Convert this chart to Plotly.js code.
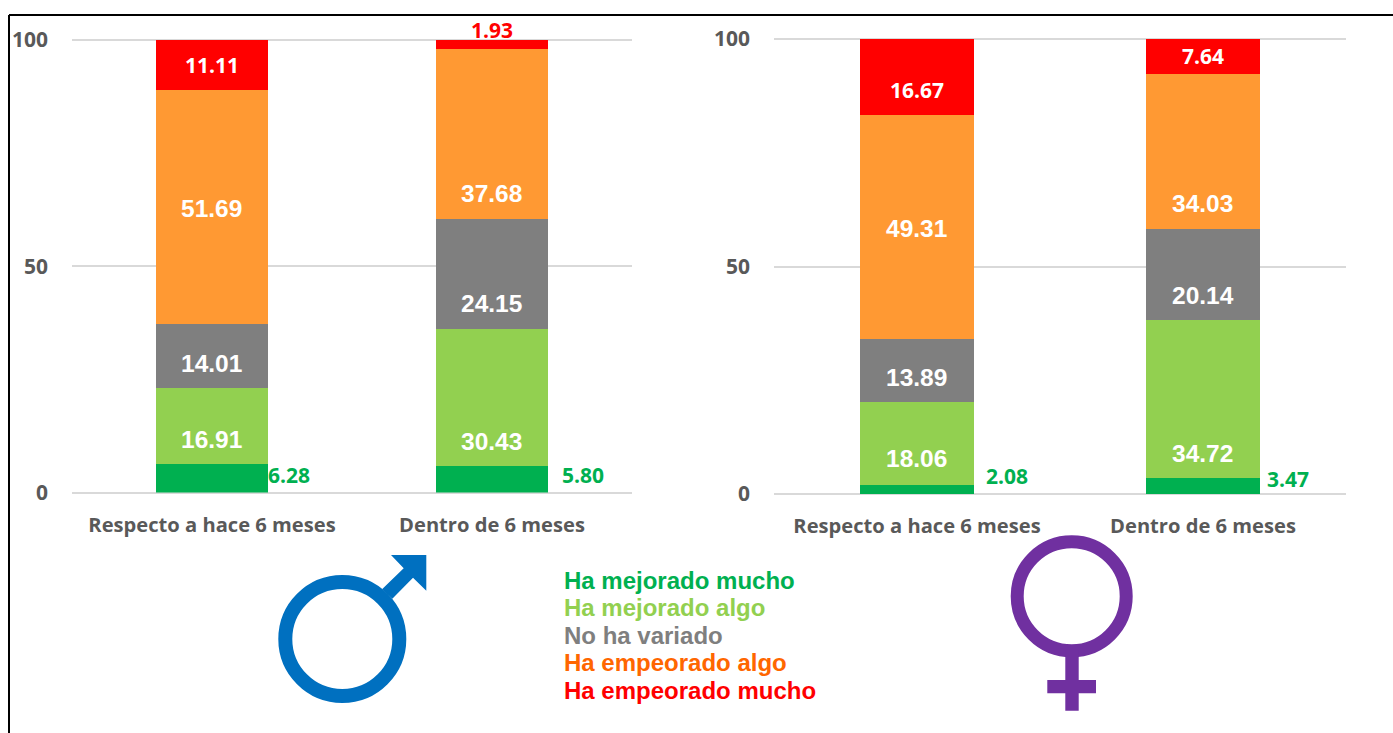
<!DOCTYPE html>
<html>
<head>
<meta charset="utf-8">
<script src="https://cdn.plot.ly/plotly-3.0.1.min.js"></script>
<style>html,body{margin:0;padding:0;background:#fff}#chart{width:1393px;height:733px}</style>
</head>
<body>
<div id="chart"></div>
<script>
var categories = ['Respecto a hace 6 meses', 'Dentro de 6 meses'];
var seriesNames = ['Ha mejorado mucho', 'Ha mejorado algo', 'No ha variado', 'Ha empeorado algo', 'Ha empeorado mucho'];
var barColors = ['#00B050', '#92D050', '#7F7F7F', '#FF9933', '#FF0000'];
var legendColors = ['#00B050', '#92D050', '#7F7F7F', '#FF6600', '#FF0000'];
var tickValues = [0, 50, 100];

var menMejoradoMucho = [6.28, 5.80];
var menMejoradoAlgo = [16.91, 30.43];
var menNoVariado = [14.01, 24.15];
var menEmpeoradoAlgo = [51.69, 37.68];
var menEmpeoradoMucho = [11.11, 1.93];

var womenMejoradoMucho = [2.08, 3.47];
var womenMejoradoAlgo = [18.06, 34.72];
var womenNoVariado = [13.89, 20.14];
var womenEmpeoradoAlgo = [49.31, 34.03];
var womenEmpeoradoMucho = [16.67, 7.64];

var W = 1393, H = 733;
var px = function (x) { return x / W; };
var py = function (y) { return 1 - y / H; };
var SANS = '"Liberation Sans", Arial, sans-serif';
var OPEN = '"Open Sans", sans-serif';

var menValues = [menMejoradoMucho, menMejoradoAlgo, menNoVariado, menEmpeoradoAlgo, menEmpeoradoMucho];
var womenValues = [womenMejoradoMucho, womenMejoradoAlgo, womenNoVariado, womenEmpeoradoAlgo, womenEmpeoradoMucho];

// Vertical offset (px, up is positive) of each label from the middle of its segment, per series and category.
var menNudge = [[3, 4], [-14, -44], [-8, -30], [-1, -59], [0, 0]];
var womenNudge = [[13.7, 7], [-15, -54], [-7, -21], [-2, -52], [-13, 0]];

function stack(values, names, xa, ya) {
  return values.map(function (v, i) {
    return {
      type: 'bar', x: categories, y: v, name: names[i], xaxis: xa, yaxis: ya,
      width: 0.4,
      marker: { color: barColors[i], line: { width: 0 } },
      hoverinfo: 'name+y'
    };
  });
}

var data = stack(menValues, seriesNames, 'x', 'y').concat(stack(womenValues, seriesNames, 'x2', 'y2'));

function label(xa, ya, idx, mid, val, opts) {
  return {
    xref: xa, yref: ya, x: idx + (opts.bar || 0), y: mid, text: '<b>' + val.toFixed(2) + '</b>',
    showarrow: false, xanchor: opts.anchor || 'center', yanchor: 'middle',
    xshift: opts.dx || 0, yshift: opts.dy || 0,
    font: { family: opts.family, size: opts.size, color: opts.color }
  };
}

var annotations = [];
function addLabels(values, nudge, xa, ya, outside) {
  categories.forEach(function (c, k) {
    var base = 0;
    values.forEach(function (v, i) {
      var mid = base + v[k] / 2;
      base += v[k];
      var o = outside[i] && outside[i][k];
      var red = i === 4;
      if (o) {
        annotations.push(label(xa, ya, k, mid, v[k], {
          bar: o.bar, anchor: o.anchor, dx: o.dx, dy: o.dy !== undefined ? o.dy : nudge[i][k],
          family: OPEN, size: 21, color: barColors[i]
        }));
      } else {
        annotations.push(label(xa, ya, k, mid, v[k], {
          dx: -0.5, dy: nudge[i][k], family: red ? OPEN : SANS, size: red ? 21 : 24.5, color: '#FFFFFF'
        }));
      }
    });
  });
}
addLabels(menValues, menNudge, 'x', 'y', {
  0: [{ bar: 0.2, anchor: 'left', dx: -2 }, { bar: 0.2, anchor: 'left', dx: 12 }],
  4: [null, { bar: 0, anchor: 'center', dx: 0, dy: 14 }]
});
addLabels(womenValues, womenNudge, 'x2', 'y2', {
  0: [{ bar: 0.2, anchor: 'left', dx: 10 }, { bar: 0.2, anchor: 'left', dx: 5 }]
});

var legendY = [580, 607, 635, 662, 690];
seriesNames.forEach(function (s, i) {
  annotations.push({
    xref: 'paper', yref: 'paper', x: px(564), y: py(legendY[i]), text: '<b>' + s + '</b>',
    showarrow: false, xanchor: 'left', yanchor: 'middle', xshift: -2,
    font: { family: SANS, size: 24, color: legendColors[i] }
  });
});

function poly(pts, color) {
  var d = pts.map(function (p, i) {
    return (i ? 'L' : 'M') + px(p[0]) + ',' + py(p[1]);
  }).join(' ') + ' Z';
  return { type: 'path', xref: 'paper', yref: 'paper', path: d, fillcolor: color, line: { width: 0 } };
}
function ring(cx, cy, r, w, color) {
  return {
    type: 'circle', xref: 'paper', yref: 'paper',
    x0: px(cx - r), x1: px(cx + r), y0: py(cy + r), y1: py(cy - r),
    fillcolor: 'rgba(0,0,0,0)', line: { color: color, width: w }
  };
}
function rule(x0, y0, x1, y1, color) {
  return {
    type: 'line', layer: color ? 'below' : 'above', xref: 'paper', yref: 'paper', x0: px(x0), y0: py(y0), x1: px(x1), y1: py(y1),
    line: { color: color || '#000000', width: 2 }
  };
}

var BLUE = '#0070C0', PURPLE = '#7030A0', GRID = '#D9D9D9';
var shapes = [
  rule(72, 40, 632, 40, GRID),
  rule(774, 39, 1346, 39, GRID),
  rule(9, 15, 1393, 15),
  rule(9, 15, 9, 733),
  ring(342.3, 639, 57, 14, BLUE),
  poly([[391, 555], [426.3, 555], [426.3, 590.7], [413, 577.7], [392.3, 598.7], [382, 589.3], [403.7, 568.3]], BLUE),
  ring(1071.7, 596.3, 54.5, 13, PURPLE),
  poly([[1065.3, 650], [1078.7, 650], [1078.7, 680], [1096, 680], [1096, 693.3], [1078.7, 693.3], [1078.7, 710.7],
        [1065.3, 710.7], [1065.3, 693.3], [1047.3, 693.3], [1047.3, 680], [1065.3, 680]], PURPLE)
];

function yAxis(domain, anchor) {
  return {
    domain: domain, anchor: anchor, range: [0, 100], tickvals: tickValues, ticktext: tickValues.map(String),
    showgrid: true, gridcolor: GRID, gridwidth: 2, zeroline: true, zerolinecolor: GRID, zerolinewidth: 2,
    showline: false, ticks: '', ticklabelstandoff: 23,
    tickfont: { family: OPEN, size: 21, color: '#595959', weight: 'bold' }, fixedrange: true
  };
}
function xAxis(domain, anchor) {
  return {
    domain: domain, anchor: anchor, type: 'category', categoryorder: 'array', categoryarray: categories,
    showgrid: false, zeroline: false, showline: false, ticks: '', ticklabelstandoff: 18,
    tickfont: { family: OPEN, size: 20.15, color: '#595959', weight: 'bold' }, fixedrange: true
  };
}

var layout = {
  width: W, height: H, margin: { l: 0, r: 0, t: 0, b: 0, pad: 0 },
  paper_bgcolor: '#FFFFFF', plot_bgcolor: 'rgba(0,0,0,0)',
  barmode: 'stack', bargap: 0.6, showlegend: false,
  xaxis: xAxis([px(72), px(632)], 'y'),
  yaxis: yAxis([py(492.5), py(40)], 'x'),
  xaxis2: xAxis([px(774), px(1346)], 'y2'),
  yaxis2: yAxis([py(494), py(39)], 'x2'),
  annotations: annotations,
  shapes: shapes
};

Plotly.newPlot('chart', data, layout, { displayModeBar: false, responsive: false });
</script>
</body>
</html>
